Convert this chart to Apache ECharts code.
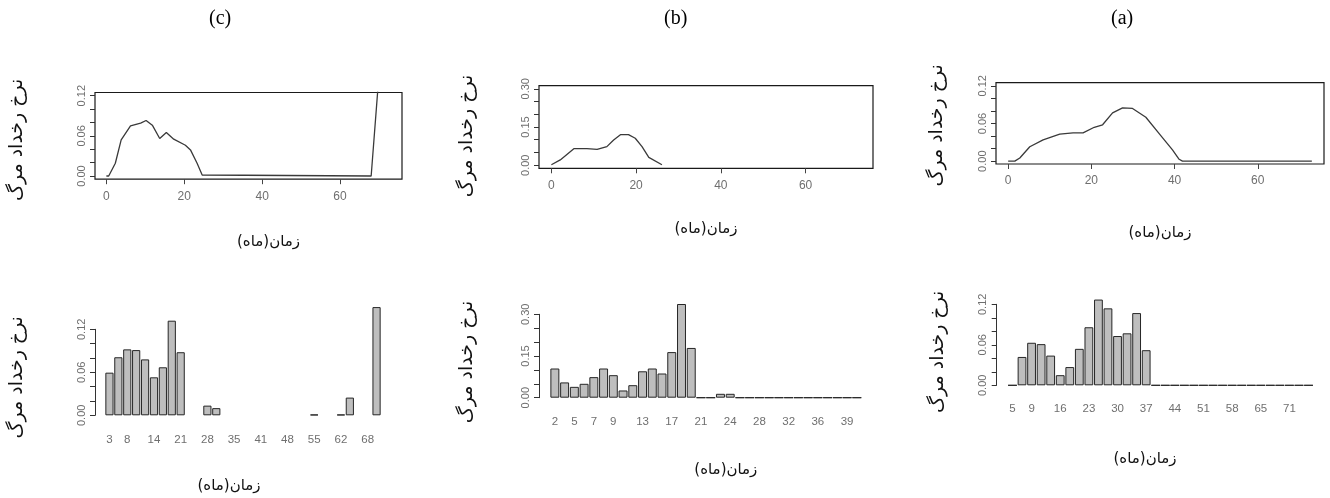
<!DOCTYPE html>
<html>
<head>
<meta charset="utf-8">
<script src="https://cdn.jsdelivr.net/npm/echarts@6/dist/echarts.min.js"></script>
<style>
html,body{margin:0;padding:0;background:#fff;}
#chart{width:1330px;height:498px;}
</style>
</head>
<body>
<div id="chart"></div>
<script>
// ---------- data ----------
const panelTitles = ['(c)', '(b)', '(a)'];
const yTitle = 'نرخ رخداد مرگ';
const xTitle = 'زمان(ماه)\u200F';

// hazard curves (time in months, rate)
const timeC = [0, 0.6, 2.3, 3.8, 6.2, 8.8, 10.2, 11.8, 13.7, 15.4, 17.3, 20.3, 21.6, 23.3, 24.6, 25.1, 68, 70];
const rateC = [0, 0, 0.019, 0.054, 0.075, 0.079, 0.083, 0.076, 0.056, 0.065, 0.055, 0.046, 0.039, 0.019, 0.0015, 0, 0, 0.151];

const timeB = [0, 2.1, 5.3, 8.4, 10.8, 13.1, 14.7, 16.3, 18.2, 19.8, 21.4, 23, 26.1];
const rateB = [0.002, 0.021, 0.065, 0.065, 0.062, 0.073, 0.099, 0.120, 0.120, 0.106, 0.073, 0.031, 0.002];

const timeA = [0, 1.6, 2.8, 5.2, 8.4, 12.4, 15.6, 18, 20.7, 22.7, 25.1, 27.5, 29.9, 33.1, 36.3, 39.5, 41.1, 41.9, 73];
const rateA = [0, 0, 0.005, 0.023, 0.034, 0.043, 0.045, 0.045, 0.054, 0.058, 0.077, 0.085, 0.084, 0.070, 0.044, 0.018, 0.003, 0, 0];

const curveTicks = [0, 20, 40, 60];

// histograms
const catC = ['3','5','8','10','12','14','16','19','21','23','26','28','30','33','35','37','39','41','44','46','48','50','53','55','57','60','62','64','66','68','71'];
const valC = [0.0595, 0.081, 0.092, 0.091, 0.078, 0.053, 0.067, 0.132, 0.088, null, null, 0.0135, 0.010,
  null, null, null, null, null, null, null, null, null, null, 0.001, null, null, 0.001, 0.0247, null, null, 0.151];
const labelsC = ['3','8','14','21','28','35','41','48','55','62','68'];

const catB = ['2','4','5','6','7','8','9','11','12','13','14','16','17','18','20','21','22','23','24','26','27','28','29','31','32','33','35','36','37','38','39','41'];
const valB = [0.105, 0.055, 0.039, 0.050, 0.074, 0.105, 0.081, 0.026, 0.045, 0.095, 0.105, 0.087, 0.164, 0.337, 0.179,
  0, 0, 0.014, 0.014, 0, 0, 0, 0, 0, 0, 0, 0, 0, 0, 0, 0, 0];
const labelsB = ['2','5','7','9','13','17','21','24','28','32','36','39'];

const catA = ['5','7','9','12','14','16','19','21','23','26','28','30','33','35','37','40','42','44','47','49','51','54','56','58','61','63','65','67','69','71','73','75'];
const valA = [0, 0.042, 0.063, 0.061, 0.044, 0.015, 0.027, 0.054, 0.086, 0.127, 0.114, 0.073, 0.077, 0.107, 0.052,
  0, 0, 0, 0, 0, 0, 0, 0, 0, 0, 0, 0, 0, 0, 0, 0, 0];
const labelsA = ['5','9','16','23','30','37','44','51','58','65','71'];

const yTicks012 = [0, 0.02, 0.04, 0.06, 0.08, 0.10, 0.12];
const yLabels012 = [0, 0.06, 0.12];
const yTicks030 = [0, 0.05, 0.10, 0.15, 0.20, 0.25, 0.30];
const yLabels030 = [0, 0.15, 0.30];

// ---------- styling ----------
const tickColor = '#6f6f6f';
const labelFont = 'Liberation Sans';
const faFont = 'DejaVu Sans';

function zip(xs, ys) { return xs.map((x, i) => [x, ys[i]]); }

const grids = [
  {left: 95, top: 92.5, width: 307, height: 86.7},
  {left: 539, top: 85.7, width: 334, height: 82.6},
  {left: 996, top: 82.7, width: 328, height: 81.3},
  {left: 105, top: 329.3, width: 276, height: 86},
  {left: 550, top: 314.3, width: 311.7, height: 83.4},
  {left: 1007.7, top: 304.3, width: 305.6, height: 81}
].map((g, i) => Object.assign({
  show: i < 3, borderColor: '#1a1a1a', borderWidth: 1.2, backgroundColor: 'transparent'
}, g));

function curveX(idx, gap, pad) {
  return {
    gridIndex: idx, type: 'value', min: -2.92, max: 75.92,
    axisLine: {show: false, onZero: false},
    axisTick: {show: true, customValues: curveTicks, length: 5, lineStyle: {color: '#444'}},
    axisLabel: {customValues: curveTicks, color: tickColor, fontFamily: labelFont, fontSize: 12, margin: 11},
    splitLine: {show: false},
    name: xTitle, nameLocation: 'middle', nameGap: gap,
    nameTextStyle: {fontFamily: faFont, fontSize: 15, color: '#111', padding: pad}
  };
}
function valueY(idx, min, max, ticks, labels, offset, gap, lineShow, shift) {
  return {
    gridIndex: idx, type: 'value', min: min, max: max, offset: offset,
    axisLine: {show: lineShow, onZero: false, lineStyle: {color: '#333', width: 1}},
    axisTick: {show: true, customValues: ticks, length: 5, lineStyle: {color: '#333'}},
    axisLabel: {customValues: labels, rotate: 90, color: tickColor, fontFamily: labelFont, fontSize: 11, margin: 8,
      formatter: v => v.toFixed(2)},
    splitLine: {show: false},
    name: yTitle, nameLocation: 'middle', nameGap: gap, nameRotate: 90,
    nameTextStyle: {fontFamily: faFont, fontSize: 19, color: '#111', padding: [0, 2 * shift, 0, 0]}
  };
}
function catX(idx, cats, labels, gap, margin, pad) {
  return {
    gridIndex: idx, type: 'category', data: cats,
    axisLine: {show: false, onZero: false}, axisTick: {show: false},
    axisLabel: {interval: (i, v) => labels.includes(v), color: tickColor, fontFamily: labelFont, fontSize: 11.5, margin: margin},
    splitLine: {show: false},
    name: xTitle, nameLocation: 'middle', nameGap: gap,
    nameTextStyle: {fontFamily: faFont, fontSize: 15, color: '#111', padding: pad}
  };
}

const lineStyle = {color: '#3a3a3a', width: 1.3};
function curve(idx, xs, ys) {
  return {type: 'line', xAxisIndex: idx, yAxisIndex: idx, data: zip(xs, ys), showSymbol: false,
    symbol: 'none', clip: true, lineStyle: lineStyle, animation: false, z: 3};
}
function bars(idx, vals) {
  return {type: 'bar', xAxisIndex: idx, yAxisIndex: idx, data: vals, barCategoryGap: '8%', clip: false,
    itemStyle: {color: '#bebebe', borderColor: '#262626', borderWidth: 1}, animation: false};
}

const option = {
  backgroundColor: '#fff',
  animation: false,
  title: [
    {text: panelTitles[0], left: 204, top: 4},
    {text: panelTitles[1], left: 659, top: 4},
    {text: panelTitles[2], left: 1106, top: 4}
  ].map(t => Object.assign(t, {textStyle: {fontFamily: 'Liberation Serif', fontSize: 20, fontWeight: 'normal', color: '#000'}})),
  grid: grids,
  xAxis: [
    curveX(0, 55, [0, 0, 0, 40]),
    curveX(1, 53, [0, 0, 0, 0]),
    curveX(2, 62, [0, 0, 0, 0]),
    catX(3, catC, labelsC, 63, 19, [0, 28, 0, 0]),
    catX(4, catB, labelsB, 65, 18, [0, 0, 0, 40]),
    catX(5, catA, labelsA, 66, 18, [0, 31, 0, 0])
  ],
  yAxis: [
    valueY(0, -0.0048, 0.1248, yTicks012, yLabels012, 0, 68, false, 4),
    valueY(1, -0.012, 0.312, yTicks030, yLabels030, 0, 62, false, 9),
    valueY(2, -0.0045, 0.125, yTicks012, yLabels012, 0, 49, false, 2),
    valueY(3, 0, 0.12, yTicks012, yLabels012, 10, 68, true, 5),
    valueY(4, 0, 0.30, yTicks030, yLabels030, 11, 62, true, 6),
    valueY(5, 0, 0.12, yTicks012, yLabels012, 11, 49, true, 7)
  ],
  series: [
    curve(0, timeC, rateC),
    curve(1, timeB, rateB),
    curve(2, timeA, rateA),
    bars(3, valC),
    bars(4, valB),
    bars(5, valA)
  ]
};

const chart = echarts.init(document.getElementById('chart'), null, {renderer: 'canvas'});
chart.setOption(option);
</script>
</body>
</html>
